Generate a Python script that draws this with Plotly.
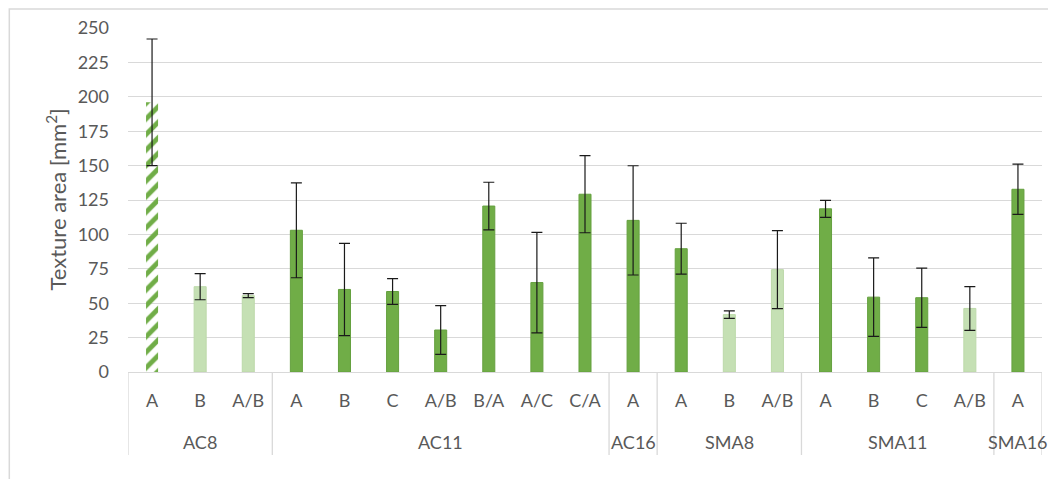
import plotly.graph_objects as go

# ---- data ----
groups = ["AC8", "AC8", "AC8",
          "AC11", "AC11", "AC11", "AC11", "AC11", "AC11", "AC11",
          "AC16",
          "SMA8", "SMA8", "SMA8",
          "SMA11", "SMA11", "SMA11", "SMA11",
          "SMA16"]
subs = ["A", "B", "A/B",
        "A", "B", "C", "A/B", "B/A", "A/C", "C/A",
        "A",
        "A", "B", "A/B",
        "A", "B", "C", "A/B",
        "A"]
values = [196.0, 62.0, 55.5,
          103.0, 60.0, 58.5, 30.5, 120.6, 65.0, 129.2,
          110.2,
          89.6, 41.7, 74.4,
          118.6, 54.4, 54.0, 46.2,
          132.8]
errors = [46.0, 9.5, 1.5,
          34.5, 33.5, 9.3, 17.7, 17.3, 36.5, 28.0,
          39.7,
          18.5, 2.7, 28.3,
          6.2, 28.5, 21.5, 15.9,
          18.2]
y_ticks = [0, 25, 50, 75, 100, 125, 150, 175, 200, 225, 250]

# ---- style (kept apart from data) ----
bar_style = ["hatch", "light", "light",
             "dark", "dark", "dark", "dark", "dark", "dark", "dark",
             "dark",
             "dark", "light", "light",
             "dark", "dark", "dark", "light",
             "dark"]
DARK = "#70AD47"
LIGHT = "#C5E0B4"
fill_map = {"dark": DARK, "light": LIGHT, "hatch": DARK}
line_map = {"dark": "#65A03F", "light": "#BCD9A9", "hatch": "rgba(0,0,0,0)"}
shape_map = {"dark": "", "light": "", "hatch": "/"}

TEXT = "#595959"
GRID = "#D9D9D9"
FONT = "Lato"

n = len(values)
pos = list(range(n))

fig = go.Figure()
fig.add_trace(go.Bar(
    x=pos,
    y=values,
    marker=dict(
        color=[fill_map[s] for s in bar_style],
        line=dict(color=[line_map[s] for s in bar_style], width=1),
        pattern=dict(shape=[shape_map[s] for s in bar_style],
                     size=11, solidity=0.45, fillmode="replace"),
    ),
    error_y=dict(type="data", array=errors, visible=True,
                 color="#1A1A1A", thickness=1.2, width=5.5),
    showlegend=False,
    hovertext=[f"{g} {s}" for g, s in zip(groups, subs)],
))

# page body adds an 8px offset; figure is sized to fit the window
W, H = 1048, 471
L, R, T, B = 119.5, 14, 20, 107
pw, ph = W - L - R, H - T - B

# group spans (derived from data)
spans = []
for i, g in enumerate(groups):
    if not spans or spans[-1][0] != g:
        spans.append([g, i, i])
    else:
        spans[-1][2] = i

div_depth = 83 / ph
label_depth = 70 / ph

shapes = [dict(
    type="rect", xref="paper", yref="paper",
    x0=(0.75 - L) / pw, x1=(W + 10 - L) / pw,
    y0=(T + ph - (H + 10)) / ph, y1=(T + ph - 1) / ph,
    line=dict(color=GRID, width=1.5), fillcolor="rgba(0,0,0,0)",
    layer="below",
)]
bounds = [spans[0][1] - 0.5] + [s[2] + 0.5 for s in spans]
for b in bounds:
    shapes.append(dict(type="line", xref="x", yref="paper",
                       x0=b, x1=b, y0=0, y1=-div_depth,
                       line=dict(color=GRID, width=1.3)))

annotations = [dict(
    text="Texture area [mm<sup>2</sup>]",
    xref="paper", yref="paper",
    x=(47 - L) / pw, y=0.5, xanchor="center", yanchor="middle",
    textangle=-90, showarrow=False,
    font=dict(family=FONT, size=22, color=TEXT),
)]
for g, i0, i1 in spans:
    annotations.append(dict(
        text=g, xref="x", yref="paper",
        x=(i0 + i1) / 2, y=-label_depth,
        xanchor="center", yanchor="middle", showarrow=False,
        font=dict(family=FONT, size=18, color=TEXT),
    ))

fig.update_layout(
    width=W, height=H,
    margin=dict(l=L, r=R, t=T, b=B, pad=0),
    paper_bgcolor="white", plot_bgcolor="white",
    font=dict(family=FONT, size=18, color=TEXT),
    bargap=0.75,
    xaxis=dict(
        range=[-0.5, n - 0.5],
        tickvals=pos, ticktext=subs,
        showline=True, linecolor=GRID, linewidth=1.3,
        showgrid=False, zeroline=False, ticks="",
        ticklabelstandoff=12,
        tickfont=dict(family=FONT, size=18, color=TEXT),
        automargin=False,
    ),
    yaxis=dict(
        range=[0, 250],
        tickvals=y_ticks,
        showgrid=True, gridcolor=GRID, gridwidth=1.3,
        zeroline=False, showline=False, ticks="",
        ticklabelstandoff=18,
        tickfont=dict(family=FONT, size=18, color=TEXT),
        automargin=False,
    ),
    annotations=annotations,
    shapes=shapes,
)

fig.write_html("out.html")
